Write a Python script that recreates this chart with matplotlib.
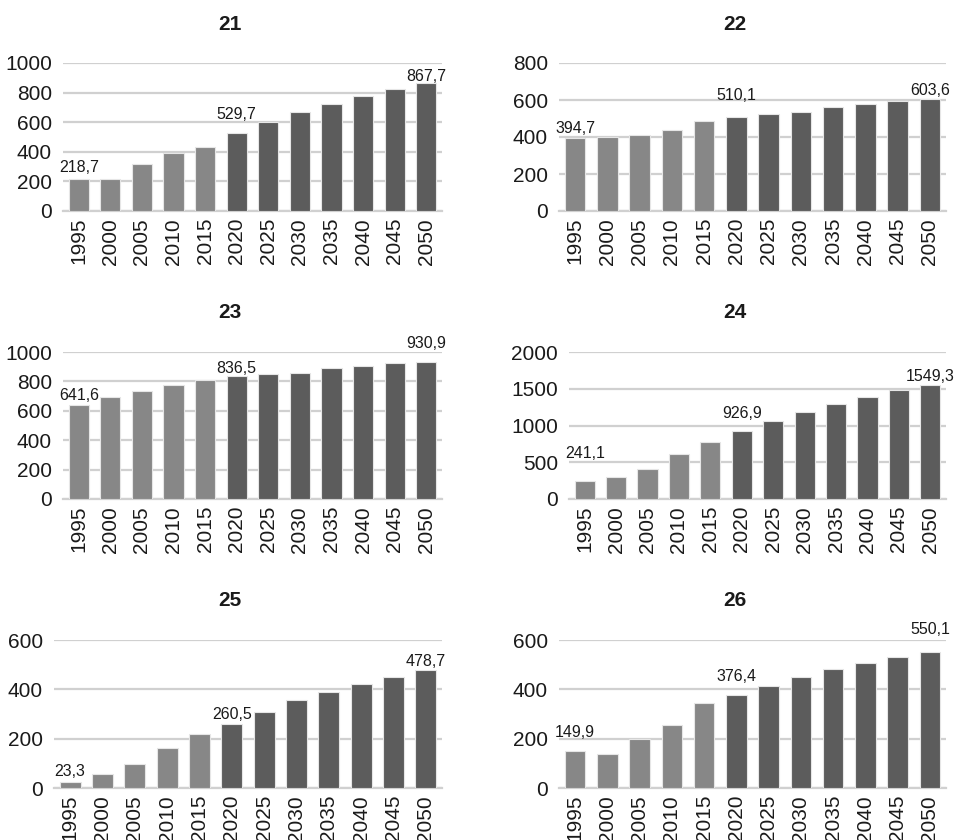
import matplotlib
matplotlib.use("Agg")
import matplotlib.pyplot as plt

plt.rcParams['font.family'] = ['Liberation Sans', 'DejaVu Sans']

years = ["1995", "2000", "2005", "2010", "2015", "2020", "2025", "2030", "2035", "2040", "2045", "2050"]

titles = ["21", "22", "23", "24", "25", "26"]

vals_21 = [218.7, 217, 319, 390, 433, 529.7, 600, 670, 726, 778, 825, 867.7]
vals_22 = [394.7, 398, 413, 438, 486, 510.1, 524, 537, 562, 578, 595, 603.6]
vals_23 = [641.6, 695, 738, 778, 808, 836.5, 848, 857, 889, 907, 923, 930.9]
vals_24 = [241.1, 303, 403, 611, 774, 926.9, 1059, 1190, 1299, 1389, 1480, 1549.3]
vals_25 = [23.3, 58, 96, 161, 218, 260.5, 307, 355, 390, 423, 451, 478.7]
vals_26 = [149.9, 139, 200, 257, 345, 376.4, 413, 448, 481, 505, 530, 550.1]

series = [vals_21, vals_22, vals_23, vals_24, vals_25, vals_26]
ymax = [1000, 800, 1000, 2000, 600, 600]
ystep = [200, 200, 200, 500, 200, 200]

# indices of labelled bars
label_idx = [0, 5, 11]
# label gaps above bars (pixels), style only
label_gap = [[7, 14, 2], [5, 17, 4], [5, 3, 14], [23, 13, 4], [6, 5, 4], [14, 14, 18]]

W, H = 958, 840
# axes boxes in pixels: left, right, top, bottom
boxes = [(63, 442, 63, 211), (559, 946, 63, 211),
         (63, 442, 352, 499), (569, 946, 352, 499),
         (54, 442, 640, 788), (559, 946, 640, 788)]
title_pos = [(230, 24), (735, 24), (230, 312), (735, 312), (230, 600), (735, 600)]

light = '#878787'
dark = '#5c5c5c'
grid_c = '#d0d0d0'
txt_c = '#1a1a1a'

fig = plt.figure(figsize=(W / 100, H / 100), dpi=100)

for k in range(6):
    l, r, t, b = boxes[k]
    ax = fig.add_axes([l / W, 1 - b / H, (r - l) / W, (b - t) / H])
    vals = series[k]
    x = list(range(len(years)))
    colors = [light if int(y) < 2020 else dark for y in years]
    ax.bar(x, vals, width=0.64, color=colors, edgecolor='#e6e6e6', linewidth=0.8, zorder=3)
    ax.set_xlim(-0.5, len(years) - 0.5)
    ax.set_ylim(0, ymax[k])
    ticks = list(range(0, ymax[k] + 1, ystep[k]))
    ax.set_yticks(ticks)
    ax.set_yticklabels([str(v) for v in ticks], fontsize=15, color=txt_c)
    ax.set_xticks(x)
    ax.set_xticklabels(years, rotation=90, fontsize=15, color=txt_c)
    ax.tick_params(axis='both', length=0)
    ax.tick_params(axis='y', pad=8)
    ax.tick_params(axis='x', pad=5)
    for s in ['top', 'right', 'left']:
        ax.spines[s].set_visible(False)
    ax.spines['bottom'].set_color(grid_c)
    ax.spines['bottom'].set_linewidth(1.6)
    ax.grid(axis='y', color=grid_c, linewidth=1.6, zorder=0)
    ax.set_axisbelow(True)
    ax.set_facecolor('none')
    for j, i in enumerate(label_idx):
        txt = f"{vals[i]:.1f}".replace('.', ',')
        ax.annotate(txt, (x[i], vals[i]), xytext=(0, label_gap[k][j] * 0.72),
                    textcoords='offset points', ha='center', va='baseline',
                    fontsize=11.5, color=txt_c, annotation_clip=False)
    tx, ty = title_pos[k]
    fig.text(tx / W, 1 - ty / H, titles[k], ha='center', va='center',
             fontsize=15, fontweight='bold', color=txt_c)

fig.savefig('out.png', dpi=100)
